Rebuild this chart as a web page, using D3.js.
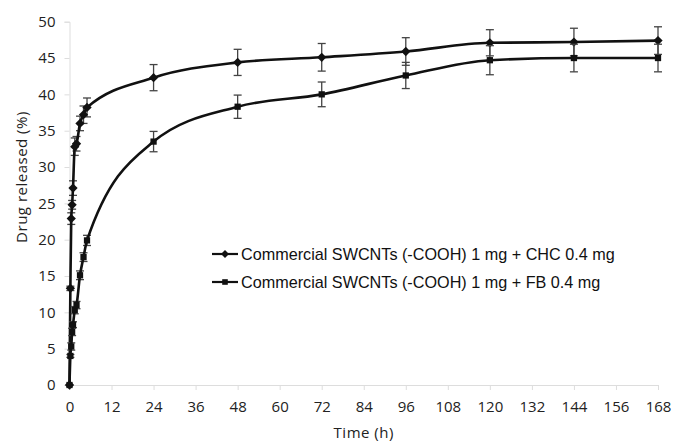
<!DOCTYPE html>
<html>
<head>
<meta charset="utf-8">
<script src="https://cdn.jsdelivr.net/npm/d3@7"></script>
<style>
  body { margin: 0; background: #fff; }
  svg { display: block; }
  .tick text { font-family: "Open Sans", sans-serif; font-size: 15px; fill: #222; }
</style>
</head>
<body>
<div id="chart"></div>
<script>
// release time points (h)
var times = [0, 0.25, 0.5, 0.75, 1, 1.5, 2, 3, 4, 5, 24, 48, 72, 96, 120, 144, 168];
// CHC formulation, % released and SD
var chcValues = [0, 13.3, 22.9, 24.8, 27.1, 32.8, 33.2, 36.0, 37.2, 38.2, 42.3, 44.4, 45.1, 45.9, 47.1, 47.2, 47.4];
var chcErr    = [0, 0.3, 0.8, 0.6, 1.0, 1.2, 1.0, 1.0, 1.2, 1.3, 1.8, 1.8, 1.9, 1.9, 1.8, 1.9, 1.9];
// FB formulation, % released and SD
var fbValues = [0, 4.0, 5.3, 7.3, 8.3, 10.3, 11.0, 15.1, 17.6, 19.9, 33.5, 38.3, 40.0, 42.6, 44.7, 45.0, 45.0];
var fbErr    = [0, 0.2, 0.5, 0.5, 0.4, 0.5, 0.5, 0.6, 0.6, 0.7, 1.4, 1.6, 1.7, 1.8, 2.0, 1.9, 1.9];

var xTicks = d3.range(0, 169, 12);
var yTicks = d3.range(0, 51, 5);
var seriesNames = ["Commercial SWCNTs (-COOH) 1 mg + CHC 0.4 mg",
                   "Commercial SWCNTs (-COOH) 1 mg + FB 0.4 mg"];

function draw(){
    var width = 673, height = 444;
    var svg = d3.select("#chart")
        .append("svg")
            .attr("width", width)
            .attr("height", height);

    var x = d3.scaleLinear().domain([0, 168]).range([69.5, 658]);
    var y = d3.scaleLinear().domain([0, 50]).range([385, 21.7]);

    // axes (light grey lines like the excel original)
    svg.append("g")
        .attr("transform", "translate(0," + y(0) + ")")
        .call(d3.axisBottom(x).tickValues(xTicks).tickSize(5).tickPadding(11));
    svg.append("g")
        .attr("transform", "translate(" + x(0) + ",0)")
        .call(d3.axisLeft(y).tickValues(yTicks).tickSize(5).tickPadding(9));
    svg.selectAll(".domain").attr("stroke", "#ddd");
    svg.selectAll(".tick line").attr("stroke", "#ddd");

    svg.append("text")
        .attr("x", (x(0) + x(168)) / 2)
        .attr("y", 438)
        .attr("text-anchor", "middle")
        .style("font-family", "Open Sans, sans-serif")
        .style("font-size", "15px")
        .style("letter-spacing", "0.5px")
        .attr("fill", "#222")
        .text("Time (h)");

    svg.append("text")
        .attr("transform", "translate(22,177) rotate(-90)")
        .attr("text-anchor", "middle")
        .attr("dy", "0.35em")
        .style("font-family", "Open Sans, sans-serif")
        .style("font-size", "15px")
        .style("letter-spacing", "0.5px")
        .attr("fill", "#222")
        .text("Drug released (%)");

    var series = [
        { name: seriesNames[0], values: chcValues, err: chcErr, symbol: d3.symbolDiamond2 },
        { name: seriesNames[1], values: fbValues, err: fbErr, symbol: d3.symbolSquare2 }
    ];

    var line = d3.line()
        .x(function(d) { return x(d.t); })
        .y(function(d) { return y(d.v); })
        .curve(d3.curveMonotoneX);

    series.forEach(function(s) {
        var pts = times.map(function(t, i) { return { t: t, v: s.values[i], e: s.err[i] }; });
        var g = svg.append("g");

        // error bars
        var eb = g.selectAll(".eb").data(pts.filter(function(d) { return d.e > 0; }))
            .enter().append("g");
        eb.append("line")
            .attr("x1", function(d) { return x(d.t); })
            .attr("x2", function(d) { return x(d.t); })
            .attr("y1", function(d) { return y(d.v - d.e); })
            .attr("y2", function(d) { return y(d.v + d.e); });
        eb.append("line")
            .attr("x1", function(d) { return x(d.t) - 4; })
            .attr("x2", function(d) { return x(d.t) + 4; })
            .attr("y1", function(d) { return y(d.v + d.e); })
            .attr("y2", function(d) { return y(d.v + d.e); });
        eb.append("line")
            .attr("x1", function(d) { return x(d.t) - 4; })
            .attr("x2", function(d) { return x(d.t) + 4; })
            .attr("y1", function(d) { return y(d.v - d.e); })
            .attr("y2", function(d) { return y(d.v - d.e); });
        eb.selectAll("line").attr("stroke", "#444").attr("stroke-width", 1.3);

        g.append("path")
            .datum(pts)
            .attr("d", line)
            .attr("fill", "none")
            .attr("stroke", "#111")
            .attr("stroke-width", 2.6);

        g.selectAll(".pt").data(pts).enter().append("path")
            .attr("transform", function(d) { return "translate(" + x(d.t) + "," + y(d.v) + ")"; })
            .attr("d", d3.symbol().type(s.symbol).size(s.symbol === d3.symbolSquare2 ? 50 : 55))
            .attr("fill", "#111")
            .attr("stroke", "none");
    });

    // legend
    var legend = svg.append("g");
    series.forEach(function(s, i) {
        var ly = 254 + i * 28;
        legend.append("line")
            .attr("x1", 212).attr("x2", 238)
            .attr("y1", ly).attr("y2", ly)
            .attr("stroke", "#111").attr("stroke-width", 2.2);
        legend.append("path")
            .attr("transform", "translate(225," + ly + ")")
            .attr("d", d3.symbol().type(s.symbol).size(40))
            .attr("fill", "#111");
        legend.append("text")
            .attr("x", 241).attr("y", ly)
            .attr("dy", "0.35em")
            .style("font-family", "Liberation Sans, Arial, sans-serif")
            .style("font-size", "16.2px")
            .attr("fill", "#111")
            .text(s.name);
    });
}
draw();
</script>
</body>
</html>
